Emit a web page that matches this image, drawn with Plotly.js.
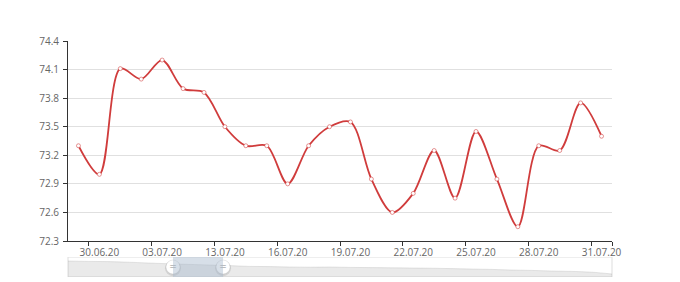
<!DOCTYPE html>
<html>
<head>
<meta charset="utf-8">
<script src="https://cdn.plot.ly/plotly-3.0.1.min.js"></script>
<style>html,body{margin:0;padding:0;background:#fff;}#chart{width:680px;height:282px;}</style>
</head>
<body>
<div id="chart"></div>
<script>
// Categories (dates) shown in the visible window
var dates = ["29.06.20","30.06.20","01.07.20","02.07.20","03.07.20","10.07.20","12.07.20",
             "13.07.20","14.07.20","15.07.20","16.07.20","17.07.20","18.07.20","19.07.20",
             "20.07.20","21.07.20","22.07.20","23.07.20","24.07.20","25.07.20","26.07.20",
             "27.07.20","28.07.20","29.07.20","30.07.20","31.07.20"];
// Series values
var values = [73.30, 73.00, 74.11, 74.00, 74.20, 73.90, 73.86, 73.50, 73.30, 73.30,
              72.90, 73.30, 73.50, 73.55, 72.95, 72.60, 72.80, 73.25, 72.75, 73.45,
              72.95, 72.45, 73.30, 73.25, 73.75, 73.40];
// Tick labels (every third category starting with the second)
var tickLabels = ["30.06.20","03.07.20","13.07.20","16.07.20","19.07.20","22.07.20","25.07.20","28.07.20","31.07.20"];
// Y axis ticks
var yTicks = [72.3, 72.6, 72.9, 73.2, 73.5, 73.8, 74.1, 74.4];
// Data-zoom overview shadow (relative level of the full series)
var shadow = [0.80,0.78,0.77,0.74,0.70,0.66,0.63,0.60,0.57,0.53,0.52,0.50,0.49,0.50,
              0.48,0.47,0.46,0.45,0.44,0.42,0.40,0.38,0.35,0.33,0.30,0.28,0.24,0.15];
// Selected window of the data zoom (fractions of the full range)
var windowRange = [0.193, 0.285];

var n = dates.length;
var boundaryTicks = [];
tickLabels.forEach(function(lbl){
  var i = dates.indexOf(lbl);
  boundaryTicks.push(i - 0.5);
});
boundaryTicks.push(n - 0.5);

var shadowX = shadow.map(function(v, i){ return i / (shadow.length - 1); });

var red = '#d03c3c';
var axisFont = {family: 'Open Sans, sans-serif', size: 10, color: '#666'};

var traces = [
  {
    x: dates, y: values, type: 'scatter', mode: 'lines+markers',
    line: {color: red, width: 1.8, shape: 'spline', smoothing: 0.9},
    marker: {symbol: 'circle', size: 4, color: '#fff', line: {color: 'rgba(208,60,60,0.55)', width: 1}},
    xaxis: 'x', yaxis: 'y', hoverinfo: 'x+y', showlegend: false
  },
  {
    x: [boundaryTicks[0]], y: [null], xaxis: 'x2', yaxis: 'y',
    type: 'scatter', mode: 'lines', hoverinfo: 'skip', showlegend: false
  },
  {
    x: shadowX, y: shadow, xaxis: 'x3', yaxis: 'y3', type: 'scatter', mode: 'lines',
    fill: 'tozeroy', fillcolor: 'rgba(150,150,150,0.2)',
    line: {color: 'rgba(120,120,120,0.3)', width: 0.6, shape: 'spline'},
    hoverinfo: 'skip', showlegend: false
  },
  {
    x: windowRange, y: [0.44, 0.44], xaxis: 'x3', yaxis: 'y3', type: 'scatter', mode: 'markers',
    marker: {symbol: 'circle', size: 16, color: 'rgba(0,0,0,0.10)'},
    hoverinfo: 'skip', showlegend: false
  },
  {
    x: windowRange, y: [0.5, 0.5], xaxis: 'x3', yaxis: 'y3', type: 'scatter', mode: 'markers+text',
    marker: {symbol: 'circle', size: 14, color: '#fff', line: {color: 'rgba(0,0,0,0.08)', width: 1}},
    text: ['=', '='], textposition: 'middle center',
    textfont: {family: 'DejaVu Sans, sans-serif', size: 9, color: '#888'},
    hoverinfo: 'skip', showlegend: false
  }
];

var sliderTop = 20 / 236;

var layout = {
  width: 680, height: 282,
  margin: {l: 68, r: 68, t: 41, b: 5, pad: 0},
  paper_bgcolor: '#fff', plot_bgcolor: 'rgba(0,0,0,0)',
  showlegend: false,
  xaxis: {
    type: 'category', domain: [0, 1], anchor: 'y',
    range: [-0.5, n - 0.5],
    tickmode: 'array', tickvals: tickLabels, ticktext: tickLabels,
    ticks: '', showgrid: false, zeroline: false,
    showline: true, linecolor: '#333', linewidth: 1,
    tickfont: axisFont, ticklabelstandoff: 2
  },
  xaxis2: {
    overlaying: 'x', anchor: 'y', range: [-0.5, n - 0.5],
    tickmode: 'array', tickvals: boundaryTicks,
    ticks: 'outside', ticklen: 4, tickcolor: '#333', tickwidth: 1,
    showticklabels: false, showgrid: false, zeroline: false, showline: false
  },
  yaxis: {
    domain: [36 / 236, 1], anchor: 'x',
    range: [72.3, 74.4], tickmode: 'array', tickvals: yTicks,
    ticktext: yTicks.map(function(v){ return v.toFixed(1); }),
    ticks: 'outside', ticklen: 4, tickcolor: '#333',
    showgrid: true, gridcolor: '#e0e0e0', gridwidth: 1, zeroline: false,
    showline: true, linecolor: '#333', linewidth: 1,
    tickfont: axisFont, ticklabelstandoff: 2
  },
  xaxis3: {domain: [0, 1], anchor: 'y3', range: [0, 1], visible: false, fixedrange: true},
  yaxis3: {domain: [0, sliderTop], anchor: 'x3', range: [0, 1], visible: false, fixedrange: true},
  shapes: [
    {type: 'rect', xref: 'x3', yref: 'y3', x0: windowRange[0], x1: windowRange[1], y0: 0, y1: 1,
     fillcolor: 'rgba(167,183,204,0.45)', line: {width: 0}, layer: 'above'},
    {type: 'rect', xref: 'paper', yref: 'y3', x0: 0, x1: 1, y0: 0, y1: 1,
     fillcolor: 'rgba(0,0,0,0)', line: {color: '#ddd', width: 1}, layer: 'below'}
  ]
};

Plotly.newPlot('chart', traces, layout, {displayModeBar: false, staticPlot: true});
</script>
</body>
</html>
